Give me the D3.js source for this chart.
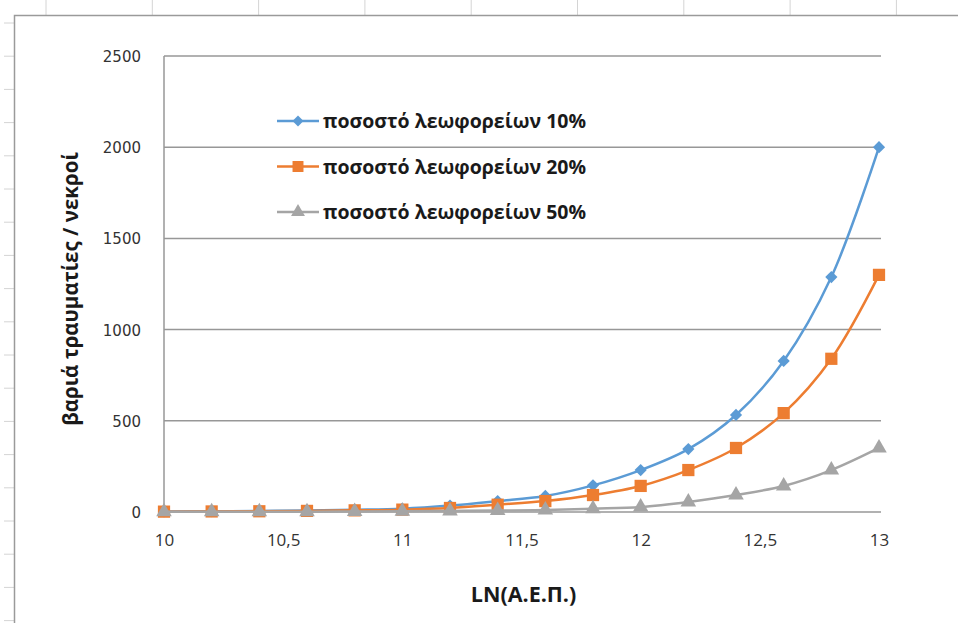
<!DOCTYPE html>
<html>
<head>
<meta charset="utf-8">
<script src="https://cdn.jsdelivr.net/npm/d3@7"></script>
<style>
  body { margin: 0; background: #fff; }
  svg { display: block; }
  .tick text { fill: #333; }
</style>
</head>
<body>
<div id="chart"></div>
<script>
// LN(GDP) values, step 0.2
const xValues = [10, 10.2, 10.4, 10.6, 10.8, 11, 11.2, 11.4, 11.6, 11.8, 12, 12.2, 12.4, 12.6, 12.8, 13];
const bus10 = [3, 4, 6, 8, 12, 18, 35, 60, 88, 146, 230, 345, 532, 828, 1288, 2000];
const bus20 = [2, 3, 4, 6, 9, 13, 22, 40, 60, 93, 143, 230, 351, 542, 840, 1300];
const bus50 = [1, 1, 2, 2, 3, 4, 6, 8, 11, 18, 27, 55, 93, 143, 230, 351];
const seriesNames = ["ποσοστό λεωφορείων 10%", "ποσοστό λεωφορείων 20%", "ποσοστό λεωφορείων 50%"];
const xTicks = [10, 10.5, 11, 11.5, 12, 12.5, 13];
const yTicks = [0, 500, 1000, 1500, 2000, 2500];

const colors = ["#5b9bd5", "#ed7d31", "#a5a5a5"];
const symbols = [d3.symbolDiamond2, d3.symbolSquare, d3.symbolTriangle];
const symbolSizes = [95, 150, 105];

const W = 958, H = 623;
const margin = { top: 56, right: 79, bottom: 111, left: 164 };
const width = W - margin.left - margin.right,
      height = H - margin.top - margin.bottom;

const svg = d3.select("#chart").append("svg")
    .attr("width", W)
    .attr("height", H);

// spreadsheet background: column lines above the chart, row lines at the left
const colLines = d3.range(46, W, 106.3);
svg.selectAll(".colLine").data(colLines).enter().append("line")
    .attr("x1", d => d).attr("x2", d => d)
    .attr("y1", 0).attr("y2", 15)
    .attr("stroke", "#d4d4d4").attr("stroke-width", 1);
const rowLines = d3.range(23, H, 33.2);
svg.selectAll(".rowLine").data(rowLines).enter().append("line")
    .attr("x1", 4).attr("x2", 14)
    .attr("y1", d => d).attr("y2", d => d)
    .attr("stroke", "#d4d4d4").attr("stroke-width", 1);

// chart area border
svg.append("path")
    .attr("d", "M14.5," + H + "V15.5H" + (W + 2))
    .attr("fill", "none")
    .attr("stroke", "#9a9a9a")
    .attr("stroke-width", 1.5);

const g = svg.append("g")
    .attr("transform", "translate(" + margin.left + "," + margin.top + ")");

const x = d3.scaleLinear().domain([10, 13]).range([0, width]);
const y = d3.scaleLinear().domain([0, 2500]).range([height, 0]);

// horizontal gridlines
g.selectAll(".grid").data(yTicks).enter().append("line")
    .attr("x1", 0).attr("x2", width + 2)
    .attr("y1", d => y(d)).attr("y2", d => y(d))
    .attr("stroke", "#979797")
    .attr("stroke-width", 1.5);

// y axis line
g.append("line")
    .attr("x1", 0).attr("x2", 0)
    .attr("y1", 0).attr("y2", height)
    .attr("stroke", "#979797")
    .attr("stroke-width", 1.5);

const yAxis = g.append("g")
    .call(d3.axisLeft(y).tickValues(yTicks).tickSize(0).tickPadding(23)
        .tickFormat(d3.format("d")));
yAxis.select(".domain").remove();
yAxis.selectAll("text")
    .style("font-family", "'DejaVu Sans', Verdana, sans-serif")
    .style("font-size", "15px")
    .attr("dy", "0.36em");

const xAxis = g.append("g")
    .attr("transform", "translate(0," + height + ")")
    .call(d3.axisBottom(x).tickValues(xTicks).tickSize(0).tickPadding(22)
        .tickFormat(d => String(d).replace(".", ",")));
xAxis.select(".domain").remove();
xAxis.selectAll("text")
    .style("font-family", "'Open Sans', sans-serif")
    .style("font-size", "17px");

// axis titles
svg.append("text")
    .attr("transform", "translate(78,289) rotate(-90)")
    .attr("text-anchor", "middle")
    .style("font-family", "'Open Sans', sans-serif")
    .style("font-weight", "bold")
    .style("font-size", "20.5px")
    .attr("fill", "#1a1a1a")
    .text("βαριά τραυματίες / νεκροί");

svg.append("text")
    .attr("x", margin.left + x(11.5) + 2)
    .attr("y", 602)
    .attr("text-anchor", "middle")
    .style("font-family", "'Open Sans', sans-serif")
    .style("font-weight", "bold")
    .style("font-size", "21.5px")
    .attr("fill", "#1a1a1a")
    .text("LN(Α.Ε.Π.)");

// series
const allSeries = [bus10, bus20, bus50];
const line = d3.line()
    .x((d, i) => x(xValues[i]))
    .y(d => y(d))
    .curve(d3.curveCatmullRom.alpha(0.5));

allSeries.forEach((vals, s) => {
  const sg = g.append("g");
  sg.append("path")
      .datum(vals)
      .attr("d", line)
      .attr("fill", "none")
      .attr("stroke", colors[s])
      .attr("stroke-width", 2.5);
  sg.selectAll(".m").data(vals).enter().append("path")
      .attr("class", "m")
      .attr("d", d3.symbol().type(symbols[s]).size(symbolSizes[s]))
      .attr("transform", (d, i) => "translate(" + x(xValues[i]) + "," + y(d) + ")")
      .attr("fill", colors[s]);
});

// legend
const legend = svg.append("g")
    .attr("transform", "translate(277,121)");
const item = legend.selectAll(".legend").data(seriesNames).enter().append("g")
    .attr("class", "legend")
    .attr("transform", (d, i) => "translate(0," + i * 45.5 + ")");
item.append("line")
    .attr("x1", 0).attr("x2", 42)
    .attr("stroke", (d, i) => colors[i])
    .attr("stroke-width", 2.5);
item.append("path")
    .attr("d", (d, i) => d3.symbol().type(symbols[i]).size(symbolSizes[i] * 0.8)())
    .attr("transform", "translate(21,0)")
    .attr("fill", (d, i) => colors[i]);
item.append("text")
    .attr("x", 46)
    .attr("dy", "0.36em")
    .style("font-family", "'Open Sans', sans-serif")
    .style("font-weight", "bold")
    .style("font-size", "19.5px")
    .attr("fill", "#1a1a1a")
    .text(d => d);
</script>
</body>
</html>
